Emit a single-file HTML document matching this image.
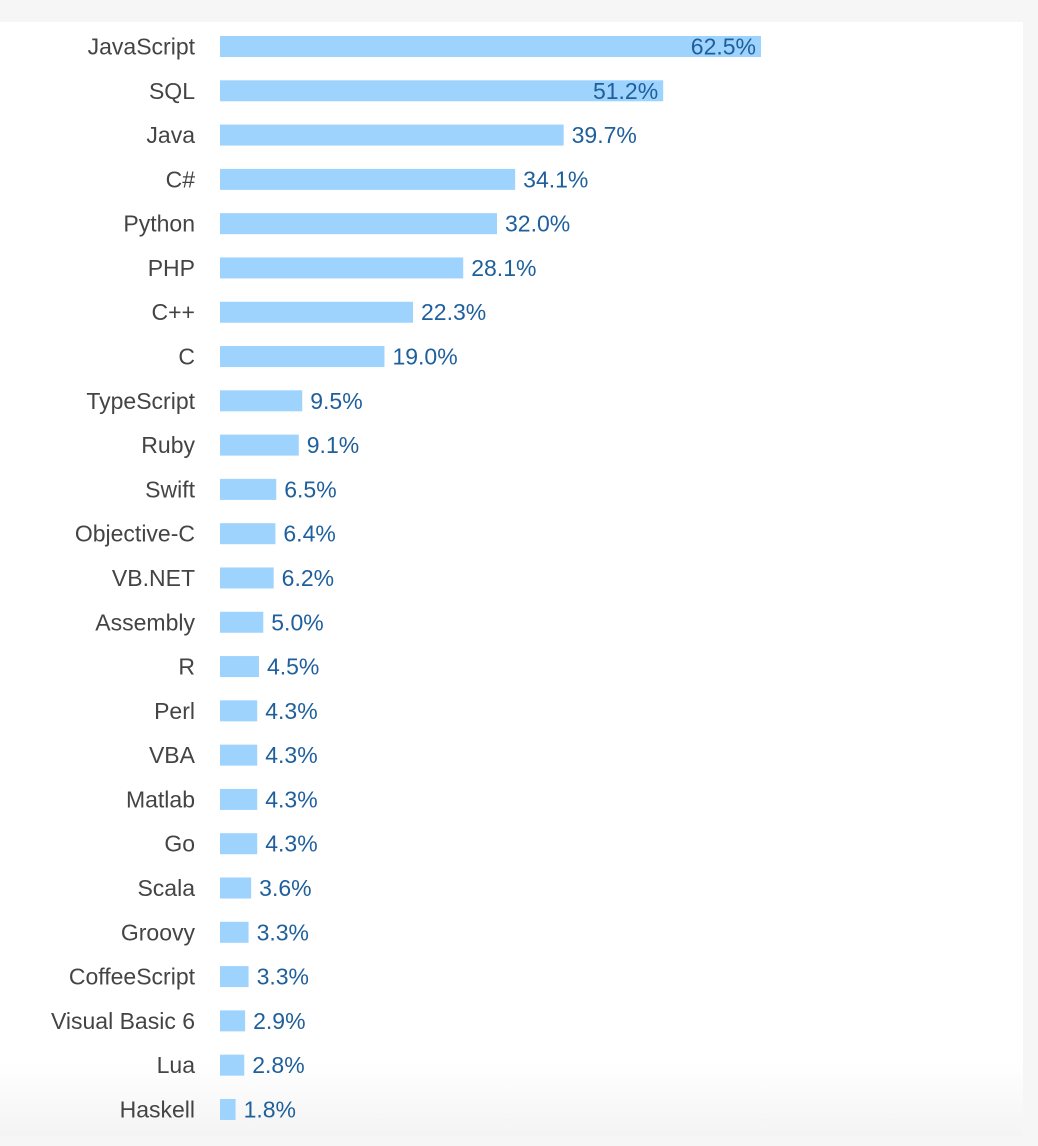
<!DOCTYPE html>
<html><head><meta charset="utf-8">
<style>
html,body{margin:0;padding:0;background:#f6f6f6;}
#wrap{position:relative;width:1038px;height:1146px;overflow:hidden;background:#f6f6f6;}
#panel{position:absolute;left:0;top:22px;width:1023px;height:1114px;background:linear-gradient(to bottom,#fff 0,#fff 1040px,#f4f4f4 1114px);}
svg{position:absolute;left:0;top:0;}
text{font-family:"Liberation Sans",Arial,sans-serif;font-size:23px;}
</style></head>
<body>
<div id="wrap">
<div id="panel"></div>
<svg id="chart" width="1038" height="1146"></svg>
</div>
<script>
const categories=["JavaScript","SQL","Java","C#","Python","PHP","C++","C","TypeScript","Ruby","Swift","Objective-C","VB.NET","Assembly","R","Perl","VBA","Matlab","Go","Scala","Groovy","CoffeeScript","Visual Basic 6","Lua","Haskell"];
const values=[62.5,51.2,39.7,34.1,32.0,28.1,22.3,19.0,9.5,9.1,6.5,6.4,6.2,5.0,4.5,4.3,4.3,4.3,4.3,3.6,3.3,3.3,2.9,2.8,1.8];
const valueLabels=["62.5%","51.2%","39.7%","34.1%","32.0%","28.1%","22.3%","19.0%","9.5%","9.1%","6.5%","6.4%","6.2%","5.0%","4.5%","4.3%","4.3%","4.3%","4.3%","3.6%","3.3%","3.3%","2.9%","2.8%","1.8%"];
const NS="http://www.w3.org/2000/svg";
const svg=document.getElementById('chart');
const x0=220, pxPer=541/62.5;
const xs=v=>x0+v*pxPer;
const ys=i=>46.5+i*44.29;
const bh=21;
categories.forEach((c,i)=>{
  const y=ys(i);
  const lab=document.createElementNS(NS,'text');
  
  
  lab.setAttribute('x',195);lab.setAttribute('y',y+8);
  lab.setAttribute('text-anchor','end');lab.setAttribute('fill','#444');
  lab.textContent=c;svg.appendChild(lab);
  const r=document.createElementNS(NS,'rect');
  
  
  r.setAttribute('x',x0);r.setAttribute('y',y-bh/2);
  r.setAttribute('width',xs(values[i])-x0);r.setAttribute('height',bh);
  r.setAttribute('fill','#9dd3fd');svg.appendChild(r);
  const t=document.createElementNS(NS,'text');
  
  
  const inside=values[i]>45;
  t.setAttribute('x',inside?xs(values[i])-5:xs(values[i])+8);
  t.setAttribute('y',y+8);
  t.setAttribute('text-anchor',inside?'end':'start');
  t.setAttribute('fill','#1e5f9c');
  t.textContent=valueLabels[i];svg.appendChild(t);
});
</script>
</body></html>
